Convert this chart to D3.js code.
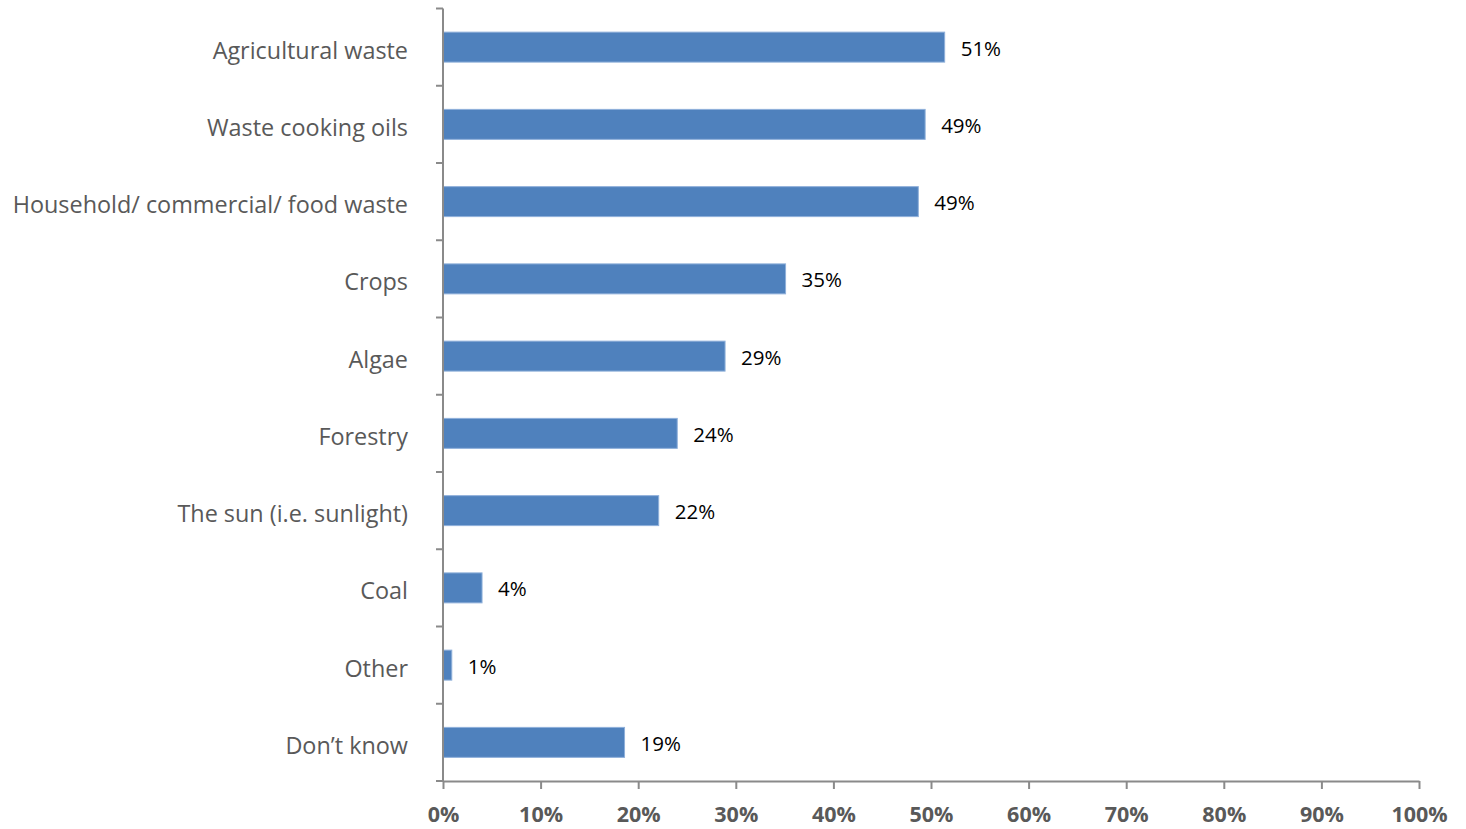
<!DOCTYPE html>
<html>
<head>
<meta charset="utf-8">
<script src="https://cdn.jsdelivr.net/npm/d3@7"></script>
<style>
  html, body { margin: 0; padding: 0; background: #fff; }
  svg { display: block; }
</style>
</head>
<body>
<svg id="chart" width="1466" height="829"></svg>
<script>
const categories = [
  "Agricultural waste",
  "Waste cooking oils",
  "Household/ commercial/ food waste",
  "Crops",
  "Algae",
  "Forestry",
  "The sun (i.e. sunlight)",
  "Coal",
  "Other",
  "Don\u2019t know"
];
const values = [51.4, 49.4, 48.7, 35.1, 28.9, 24.0, 22.1, 4.0, 0.9, 18.6];
const valueLabels = ["51%", "49%", "49%", "35%", "29%", "24%", "22%", "4%", "1%", "19%"];
const xTicks = [0, 10, 20, 30, 40, 50, 60, 70, 80, 90, 100];

(function () {
const svg = d3.select("#chart");
const plotLeft = 443, plotRight = 1419, plotTop = 8.5, plotBottom = 781;

const x = d3.scaleLinear().domain([0, 100]).range([plotLeft, plotRight]);
const y = d3.scaleBand().domain(categories).range([plotTop, plotBottom])
  .paddingInner(0.612).paddingOuter(0.306);

const axisColor = "#8a8a8a";

// bars
svg.append("g").selectAll("rect").data(categories).join("rect")
  .attr("x", x(0))
  .attr("y", d => y(d))
  .attr("width", (d, i) => x(values[i]) - x(0))
  .attr("height", y.bandwidth())
  .attr("fill", "#4F81BD")
  .attr("stroke", "#8FB0DA")
  .attr("stroke-width", 1);

// value labels
svg.append("g").selectAll("text").data(categories).join("text")
  .attr("x", (d, i) => x(values[i]) + 16)
  .attr("y", d => y(d) + y.bandwidth() / 2 + 1)
  .attr("dy", "0.36em")
  .attr("font-family", "'Open Sans', sans-serif")
  .attr("font-size", 20.5)
  .attr("fill", "#000")
  .text((d, i) => valueLabels[i]);

// Y axis
const yAxisG = svg.append("g");
yAxisG.append("line")
  .attr("x1", plotLeft).attr("x2", plotLeft).attr("y1", plotTop).attr("y2", plotBottom)
  .attr("stroke", axisColor).attr("stroke-width", 2);
const yBounds = d3.range(categories.length + 1).map(i => plotTop + i * (plotBottom - plotTop) / categories.length);
yAxisG.selectAll("line.tick").data(yBounds).join("line")
  .attr("class", "tick")
  .attr("x1", plotLeft - 7).attr("x2", plotLeft)
  .attr("y1", d => d).attr("y2", d => d)
  .attr("stroke", axisColor).attr("stroke-width", 2);
yAxisG.selectAll("text").data(categories).join("text")
  .attr("x", 408)
  .attr("y", d => y(d) + y.bandwidth() / 2 + 3)
  .attr("dy", "0.36em")
  .attr("text-anchor", "end")
  .attr("font-family", "'Open Sans', sans-serif")
  .attr("font-size", 23.4)
  .attr("fill", "#595959")
  .text(d => d);

// X axis
const xAxis = d3.axisBottom(x).tickValues(xTicks).tickSize(8).tickSizeOuter(0)
  .tickFormat(d => d + "%");
const xg = svg.append("g").attr("transform", `translate(0,${plotBottom})`).call(xAxis);
xg.select(".domain").attr("stroke", axisColor).attr("stroke-width", 2);
xg.selectAll(".tick line").attr("stroke", axisColor).attr("stroke-width", 2);
xg.selectAll(".tick text")
  .attr("y", 26)
  .attr("dy", "0.71em")
  .attr("font-family", "'Open Sans', sans-serif")
  .attr("font-size", 21.5)
  .attr("font-weight", "bold")
  .attr("fill", "#595959");
})();
</script>
</body>
</html>
